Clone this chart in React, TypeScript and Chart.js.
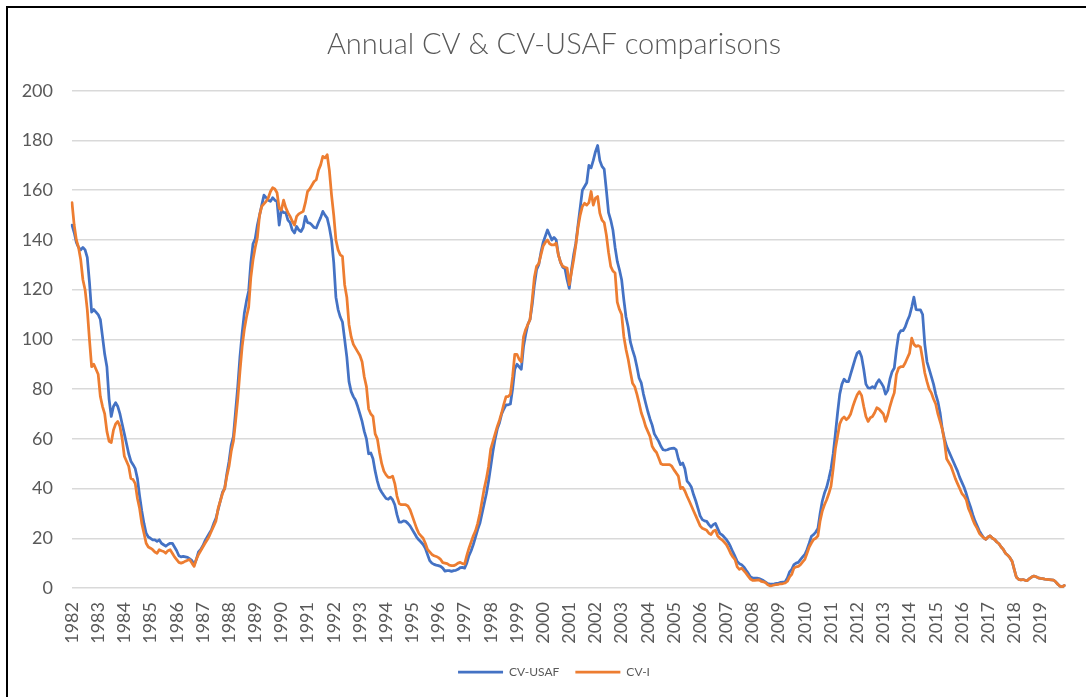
import React, { useEffect, useRef } from 'react';
import { Chart, registerables } from 'chart.js';

Chart.register(...registerables);

// Tick labels (one per January)
const years: string[] = [
  '1982', '1983', '1984', '1985', '1986', '1987', '1988', '1989', '1990', '1991',
  '1992', '1993', '1994', '1995', '1996', '1997', '1998', '1999', '2000', '2001',
  '2002', '2003', '2004', '2005', '2006', '2007', '2008', '2009', '2010', '2011',
  '2012', '2013', '2014', '2015', '2016', '2017', '2018', '2019',
];
const monthNames: string[] = ['Jan', 'Feb', 'Mar', 'Apr', 'May', 'Jun', 'Jul', 'Aug', 'Sep', 'Oct', 'Nov', 'Dec'];

// Categories: monthly
const categories: string[] = years.flatMap((y) => monthNames.map((m) => `${m} ${y}`));

// CV-USAF (monthly, one row per year)
const cvUsaf: number[] = [
  146, 143, 139, 137, 136, 137, 136, 133, 123, 111, 112, 111, // 1982
  110, 108, 101, 94, 89, 76, 69, 73, 74.5, 73, 70, 66, // 1983
  62, 58, 54, 51, 49.6, 48, 44, 37, 31, 26, 22, 20.5, // 1984
  20, 19.4, 19.4, 18.8, 19.4, 18, 17.4, 16.8, 17.5, 18, 18, 16.5, // 1985
  15, 13, 12.5, 12.7, 12.5, 12.3, 11.7, 11, 9.4, 11.5, 14.5, 15.5, // 1986
  17, 19, 20.5, 22, 23.5, 26, 28, 31.5, 35, 38.5, 40, 46, // 1987
  51, 57.5, 61, 71, 81, 93, 102.5, 110.5, 115.5, 119.5, 131, 138.5, // 1988
  140.5, 146, 150, 154, 158, 157, 156, 155.5, 157, 156, 155.5, 146, // 1989
  152, 151, 151, 148, 147, 144, 142.8, 145.4, 144, 143.4, 145, 149.5, // 1990
  147, 146.8, 146, 145, 144.8, 147, 149, 151.5, 150, 148.8, 145, 140, // 1991
  131, 117, 112, 109, 107, 100, 93, 83, 79, 77, 75.5, 73, // 1992
  70, 67, 63, 60, 54, 54.3, 52, 47, 43, 40, 38.5, 37.2, // 1993
  36, 35.7, 36.5, 35.5, 33.5, 29.5, 26.5, 26.5, 27, 26.8, 26, 25, // 1994
  23.5, 22, 20.5, 19.4, 18.5, 17.5, 16, 13.5, 11, 10, 9.5, 9.2, // 1995
  9, 8.7, 8, 6.8, 7, 7, 6.7, 7, 7.1, 7.5, 8.2, 8.3, // 1996
  8, 10, 13, 15, 17.5, 20.5, 23.5, 26, 30, 34, 38, 43, // 1997
  49, 55, 60, 64, 66.5, 70, 72, 73.7, 73.7, 74, 80, 88, // 1998
  90, 89, 88, 97, 102, 106, 108, 114, 122, 128, 130, 135, // 1999
  139, 141.5, 144, 142, 140, 141, 140, 134, 131, 129, 128.5, 124, // 2000
  120.5, 128, 134, 138.7, 146, 153, 160, 161.5, 163, 170, 169, 172, // 2001
  175.5, 178, 172, 169.6, 168.5, 160, 151, 148, 144, 137, 131.4, 128, // 2002
  124, 116, 109, 105, 99, 95.8, 93, 89, 84.5, 82.5, 78, 74.4, // 2003
  71, 68, 65.5, 62, 60.5, 59, 57, 55.6, 55.4, 55.6, 56, 56.2, // 2004
  56.3, 55.6, 52, 49.6, 50.3, 48, 43, 42, 40.5, 37.5, 35, 32, // 2005
  29, 27.5, 27, 26.8, 25.5, 24.5, 25.5, 26, 24, 22, 21.4, 20.5, // 2006
  19.5, 18.2, 16.5, 14.5, 12.7, 10.7, 9.8, 9.4, 8.5, 7.2, 6, 4.5, // 2007
  4, 4, 4, 3.8, 3.4, 3, 2.4, 1.8, 1.6, 1.6, 1.7, 1.9, // 2008
  2, 2.3, 2.4, 2.5, 4, 6.5, 7.5, 9.4, 10, 10.3, 11.4, 12.5, // 2009
  13.5, 15.5, 18, 20.8, 21.5, 22.5, 24, 30, 35, 38.2, 40.5, 44, // 2010
  48, 54, 62, 70.4, 78, 82, 84, 83, 83, 86, 89, 92, // 2011
  94.5, 95.2, 93, 88, 82, 80.5, 80.4, 81, 80.4, 82.5, 83.8, 82.5, // 2012
  81, 78, 79.5, 84, 87, 88.5, 96, 102, 103.5, 103.5, 105, 107.5, // 2013
  109.5, 113, 117, 112, 111.9, 111.9, 110, 98, 91, 88, 85, 82, // 2014
  78, 75, 70.5, 64, 60, 57, 55, 53, 51, 49, 47, 44.5, // 2015
  42.5, 40.5, 38, 35, 32.5, 29.5, 27, 25, 23, 21.5, 20.2, 19.6, // 2016
  20.5, 21, 20, 19.5, 18.5, 17.8, 16.5, 15.5, 14, 13.2, 12.2, 10.8, // 2017
  7.5, 4.3, 3.5, 3.3, 3.4, 3.1, 3, 3.8, 4.4, 4.8, 4.5, 4.1, // 2018
  3.9, 3.8, 3.6, 3.5, 3.4, 3.3, 3.2, 2.5, 1.5, 0.7, 0.5, 1, // 2019
];

// CV-I (monthly, one row per year)
const cvI: number[] = [
  155, 146, 140, 137, 132, 124, 120, 112, 100, 89, 90, 88, // 1982
  86, 77, 73, 70, 63, 59, 58.5, 63.5, 66, 67, 65, 60, // 1983
  53, 51, 49, 44, 43.6, 42, 36, 32, 26, 22, 18, 16.5, // 1984
  16, 15.4, 14.5, 14, 15.4, 15, 14.7, 14, 15, 15.4, 14, 12.5, // 1985
  11.4, 10.3, 10, 10.3, 10.8, 11.2, 11.4, 10, 8.7, 11.5, 13.5, 15, // 1986
  16.5, 18, 19.4, 21, 23, 25, 27, 32, 35, 38, 40, 45, // 1987
  49, 55, 59, 67, 76, 87, 97, 104, 109, 113, 125, 132, // 1988
  137, 141, 150, 153.5, 154.5, 155.5, 157, 159.5, 161, 160.5, 159, 152.8, // 1989
  152, 156, 153, 151, 149.5, 147.5, 146, 149.5, 150.5, 151, 151.5, 155, // 1990
  159.5, 160.5, 162, 163.5, 164.2, 168, 170.2, 173.6, 173, 174.3, 168, 158, // 1991
  150, 140, 136, 134, 133.4, 122, 117, 106, 101, 98, 96.5, 95, // 1992
  93.5, 91, 85, 81, 72, 70, 69, 62, 60, 54.5, 50, 47, // 1993
  45.5, 44.5, 44.5, 45, 42, 37, 34, 33.5, 33.5, 33.5, 33, 31.5, // 1994
  29, 26.5, 24, 22, 21, 20, 18, 15.5, 14.5, 13.5, 13, 12.7, // 1995
  12.2, 11.5, 10.2, 10, 9.8, 9.2, 9, 9, 9.4, 10, 10.3, 9.8, // 1996
  9.6, 13, 16, 18.5, 21, 23, 26, 30, 35, 40, 44, 49, // 1997
  56, 59, 62, 65, 67.5, 70.5, 74, 77, 77, 78, 85, 94, // 1998
  94, 92, 91, 101, 104, 106, 108, 116, 125, 129.4, 130.5, 134, // 1999
  137.5, 139, 140, 138.5, 138, 138, 138.7, 134, 131, 129.4, 129, 128.7, // 2000
  122, 127, 132, 138, 145, 150, 153.5, 154.8, 154, 155, 159.5, 154, // 2001
  156.8, 157.5, 150.8, 148, 147, 142, 135, 129.4, 127.5, 126.7, 115, 112, // 2002
  110, 101.2, 96, 92, 87, 82.4, 81, 78, 74.4, 70.5, 68, 65, // 2003
  63, 61, 57, 55.5, 54.5, 52.3, 50, 49.6, 49.6, 49.6, 49.6, 49, // 2004
  47.5, 46.3, 45, 40, 40.5, 39, 36.9, 35, 33, 31, 29, 27, // 2005
  25, 24, 23.6, 23.2, 22, 21.5, 22.8, 23.3, 21, 20, 19.4, 18.5, // 2006
  17.5, 15.8, 13.9, 12.5, 11.4, 8.5, 7.5, 8, 7, 6, 4.8, 3.6, // 2007
  3.1, 3.1, 3.2, 3.3, 2.7, 2.5, 2.1, 1.3, 0.9, 1, 1.2, 1.4, // 2008
  1.5, 1.7, 1.8, 2, 2.7, 4.5, 5.5, 8, 8.5, 8.7, 9.4, 10.5, // 2009
  11.5, 14, 16.5, 18.1, 19.5, 20, 21, 27, 31, 33.5, 35.5, 38, // 2010
  41, 48, 56, 61, 66, 68, 68.8, 67.7, 68.5, 70, 73, 75.5, // 2011
  77.7, 79, 77.5, 73, 69, 67, 68.5, 69, 70.5, 72.5, 72, 71, // 2012
  70, 67, 69.5, 73, 76, 78.5, 86, 88.5, 89, 89, 90.5, 92.5, // 2013
  94.5, 100.5, 98, 97.2, 97.5, 97, 92, 86.5, 83, 80, 78.5, 76, // 2014
  74, 70, 67, 64, 59, 52, 50.5, 49, 46.5, 44, 42, 40, // 2015
  38, 37, 35.5, 32, 30, 27.5, 25.5, 24, 22, 21, 20.2, 19.6, // 2016
  20.5, 21, 20, 19.5, 18.5, 17.8, 16.5, 15.5, 14, 13.2, 12.2, 10.8, // 2017
  7.5, 4.3, 3.5, 3.3, 3.4, 3.1, 3, 3.8, 4.4, 4.8, 4.5, 4.1, // 2018
  3.9, 3.8, 3.6, 3.5, 3.4, 3.3, 3.2, 2.5, 1.5, 0.7, 0.5, 1, // 2019
];

const TEXT = '#595959';
const FONT = 'Lato, "Open Sans", sans-serif';

export default function App() {
  const ref = useRef<HTMLCanvasElement>(null);

  useEffect(() => {
    if (!ref.current) return;
    const chart = new Chart(ref.current, {
      type: 'line',
      data: {
        labels: categories,
        datasets: [
          {
            label: 'CV-I',
            data: cvI,
            borderColor: '#ED7D31',
            backgroundColor: '#ED7D31',
            borderWidth: 2.75,
            pointRadius: 0,
            tension: 0,
            borderJoinStyle: 'round',
            borderCapStyle: 'round',
            yAxisID: 'y',
          },
          {
            label: 'CV-USAF',
            data: cvUsaf,
            borderColor: '#4472C4',
            backgroundColor: '#4472C4',
            borderWidth: 2.75,
            pointRadius: 0,
            tension: 0,
            borderJoinStyle: 'round',
            borderCapStyle: 'round',
            yAxisID: 'y',
          },
        ],
      },
      options: {
        responsive: false,
        animation: false,
        devicePixelRatio: 1,
        layout: { padding: { left: 15, right: 7, top: 0, bottom: 9 } },
        font: { family: FONT },
        plugins: {
          title: {
            display: true,
            text: 'Annual CV & CV-USAF comparisons',
            color: TEXT,
            font: { family: FONT, size: 29, weight: '300', lineHeight: 1.2 },
            padding: { top: 27, bottom: 29 },
          },
          legend: {
            display: true,
            position: 'bottom',
            reverse: true,
            labels: {
              usePointStyle: true,
              pointStyle: 'line',
              pointStyleWidth: 45,
              color: TEXT,
              font: { family: FONT, size: 12 },
              padding: 16,
            },
          },
          tooltip: { enabled: false },
        },
        scales: {
          x: {
            type: 'category',
            grid: { display: false, drawTicks: false },
            border: { display: false },
            ticks: {
              autoSkip: false,
              minRotation: 90,
              maxRotation: 90,
              padding: 14,
              color: TEXT,
              font: { family: FONT, size: 18 },
              callback: (_value: any, index: number) => (index % 12 === 0 ? years[index / 12] : ''),
            },
            afterFit: (scale: any) => {
              scale.height = 62;
            },
          },
          y: {
            position: 'left',
            min: 0,
            max: 200,
            grid: { color: '#d9d9d9', lineWidth: 1.5, drawTicks: false },
            border: { display: false },
            ticks: {
              stepSize: 20,
              padding: 19,
              color: TEXT,
              font: { family: FONT, size: 18 },
            },
            afterFit: (scale: any) => {
              scale.width = 57;
            },
          },
          // empty right-hand spacer so the title and legend centre on the full chart frame
          spacer: {
            type: 'linear',
            position: 'right',
            display: true,
            grid: { display: false, drawTicks: false },
            border: { display: false },
            ticks: { display: false },
            afterFit: (scale: any) => {
              scale.width = 22;
            },
          },
        },
      },
    });
    return () => chart.destroy();
  }, []);

  return (
    <div
      style={{
        position: 'fixed',
        left: 0,
        top: 0,
        width: 1086,
        height: 697,
        background: '#ffffff',
        overflow: 'hidden',
      }}
    >
      <div style={{ position: 'absolute', left: 6, top: 6, width: 2, height: 691, background: '#000' }} />
      <div style={{ position: 'absolute', left: 6, top: 6, width: 1080, height: 2, background: '#000' }} />
      <canvas
        ref={ref}
        width={1100}
        height={697}
        style={{ position: 'absolute', left: 0, top: 0, width: 1100, height: 697 }}
      />
    </div>
  );
}
